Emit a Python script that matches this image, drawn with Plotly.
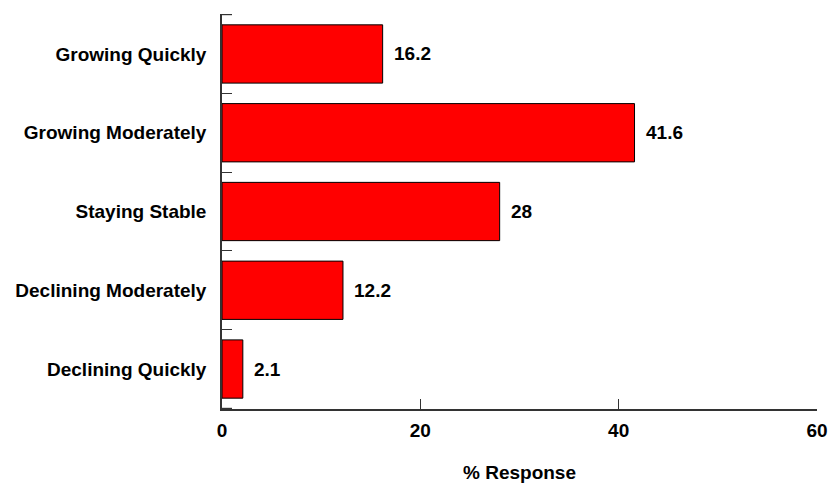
import plotly.graph_objects as go

# Survey categories (top to bottom) and their share of responses
categories = [
    "Growing Quickly",
    "Growing Moderately",
    "Staying Stable",
    "Declining Moderately",
    "Declining Quickly",
]
values = [16.2, 41.6, 28, 12.2, 2.1]
value_labels = ["16.2", "41.6", "28", "12.2", "2.1"]
x_ticks = [0, 20, 40, 60]

FONT = "Arial, Liberation Sans, sans-serif"
AXIS_COLOR = "#333333"
FS = 19

fig = go.Figure(
    go.Bar(
        x=values,
        y=categories,
        orientation="h",
        marker=dict(color="#FF0000", line=dict(color="#000000", width=1)),
        hoverinfo="x+y",
    )
)

# Value labels just right of each bar end
for cat, val, lab in zip(categories, values, value_labels):
    fig.add_annotation(
        x=val, y=cat, text=lab, showarrow=False,
        xanchor="left", yanchor="middle", xshift=9,
        font=dict(family=FONT, size=FS, color="#000000", weight="bold"),
    )

# Tick marks at the outer ends of the category axis
for yb in (-0.5, len(categories) - 0.5):
    fig.add_shape(
        type="line", xref="paper", yref="y",
        x0=0, x1=10 / 595, y0=yb, y1=yb,
        line=dict(color=AXIS_COLOR, width=1.2),
    )

fig.update_layout(
    width=828, height=485,
    margin=dict(l=222, r=11, t=14, b=76),
    paper_bgcolor="white", plot_bgcolor="white",
    bargap=0.26,
    showlegend=False,
    font=dict(family=FONT, size=FS, color="#000000", weight="bold"),
)

fig.update_xaxes(
    range=[0, 60],
    tickvals=x_ticks,
    ticktext=[str(t) for t in x_ticks],
    ticks="inside", ticklen=10, tickwidth=1.2, tickcolor=AXIS_COLOR,
    showline=True, linecolor=AXIS_COLOR, linewidth=1.5,
    showgrid=False, zeroline=False,
    automargin=False,
    ticklabelstandoff=3,
    title=dict(text="% Response", standoff=26,
               font=dict(family=FONT, size=FS, weight="bold")),
    tickfont=dict(family=FONT, size=FS, weight="bold"),
)

fig.update_yaxes(
    categoryorder="array",
    categoryarray=categories,
    autorange="reversed",
    tickson="boundaries",
    ticks="inside", ticklen=10, tickwidth=1.2, tickcolor=AXIS_COLOR,
    showline=True, linecolor=AXIS_COLOR, linewidth=1.5,
    showgrid=False, zeroline=False,
    automargin=False,
    ticklabelstandoff=10,
    tickfont=dict(family=FONT, size=FS, weight="bold"),
)

fig.write_html("out.html")
